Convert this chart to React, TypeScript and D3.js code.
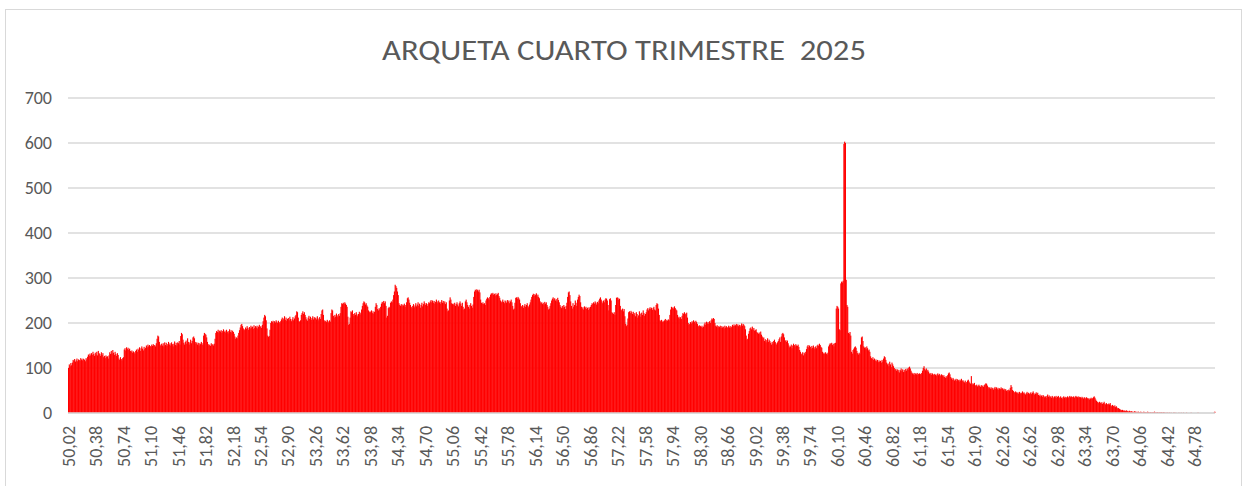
import * as d3 from 'd3';

// Frequency per 0,01 step (one row = one tick interval of 36 steps)
const counts5002 = [
  100,108,104,111,106,112,118,116,120,114,117,121,115,119,118,116,122,119,117,121,120,118,115,122,119,125,130,127,132,128,133,129,136,131,127,134,
  130,136,128,138,133,131,127,135,129,133,124,127,122,128,125,126,121,128,135,131,138,132,140,134,129,136,131,127,133,129,121,118,124,120,117,122,
  124,141,144,139,146,142,145,140,143,138,136,139,134,137,135,132,138,141,136,143,140,146,138,144,148,143,139,147,142,145,150,146,152,148,151,149,
  147,152,149,153,150,151,148,155,165,172,170,158,152,149,154,150,155,148,157,151,156,149,153,158,152,155,150,157,153,148,154,159,151,156,150,157,
  155,160,152,171,178,175,163,156,152,158,161,154,166,158,152,157,163,155,160,168,170,166,158,154,157,152,156,150,155,153,158,155,151,172,178,176,
  174,168,158,153,150,152,149,155,151,153,150,154,165,178,182,180,185,179,183,181,184,178,182,186,180,183,179,185,181,177,182,186,180,184,179,183,
  180,176,170,165,168,166,172,178,184,190,196,198,193,188,184,186,190,187,193,189,185,191,188,194,190,192,187,195,189,193,190,194,188,192,196,191,
];

const counts5254 = [
  193,189,196,204,212,218,215,206,188,172,169,171,185,200,204,202,205,199,204,201,206,203,200,205,202,199,204,208,212,206,210,215,207,212,205,209,
  211,206,214,209,204,208,213,206,210,215,218,226,224,212,204,203,206,218,222,226,220,224,218,213,208,205,212,216,209,214,207,211,215,208,213,210,
  212,208,215,210,206,213,209,220,228,230,218,206,203,205,202,207,204,201,206,203,222,230,228,216,212,218,214,221,217,213,220,216,222,236,244,242,
  245,242,246,243,240,236,214,196,198,212,226,224,228,220,216,222,218,224,219,215,220,225,219,223,230,238,244,248,246,241,244,239,236,228,224,226,
  224,228,222,226,221,225,236,244,240,231,228,233,230,236,243,247,245,249,244,248,238,212,216,233,236,234,245,248,246,252,262,270,285,282,278,270,
  262,244,240,238,242,237,241,239,243,236,240,246,255,257,252,245,240,236,233,238,242,235,239,244,237,241,246,238,243,234,240,245,237,242,248,244,
  240,244,238,242,246,244,248,251,246,250,245,249,243,247,252,248,244,250,246,243,247,251,245,249,244,248,242,246,232,226,228,250,257,252,244,242,
];

const counts5506 = [
  243,240,245,238,242,246,241,237,244,248,243,238,245,236,230,232,248,252,246,240,236,232,240,244,238,234,241,258,270,274,272,275,273,270,274,268,
  252,245,243,246,242,244,240,250,254,257,255,252,258,263,266,264,267,263,265,261,266,262,264,267,260,256,250,246,248,252,247,244,250,248,245,251,
  247,250,244,248,252,246,238,230,232,245,256,257,254,258,255,252,244,238,236,240,234,238,242,236,240,244,238,235,241,246,252,258,262,265,260,264,
  262,266,259,263,258,255,248,244,246,242,245,241,247,243,246,240,236,230,232,238,244,250,254,257,252,255,250,253,248,256,251,246,240,236,233,238,
  234,240,236,231,238,245,258,268,270,262,248,238,232,244,236,240,250,245,238,252,258,263,260,246,236,232,235,230,237,233,236,231,234,229,235,232,
  236,240,244,242,246,243,248,245,241,247,244,250,254,257,252,248,244,250,246,252,255,254,250,240,228,253,255,250,224,222,220,224,218,240,256,257,
  256,252,254,238,230,228,232,226,231,215,198,193,196,210,224,226,222,227,224,220,225,218,222,215,224,220,212,217,226,221,214,223,218,228,222,216,
];

const counts5758 = [
  220,224,230,233,228,232,235,231,234,229,233,236,230,228,240,244,242,232,218,206,204,207,202,205,203,206,209,204,207,205,208,206,218,230,236,233,
  235,232,237,233,230,228,218,212,214,210,213,209,216,222,220,224,221,219,223,212,200,196,198,202,199,204,201,206,203,199,205,202,198,194,192,195,
  193,191,194,190,192,197,201,196,203,199,202,198,204,200,206,210,208,211,209,200,194,192,195,190,193,191,194,189,193,190,192,188,194,190,193,189,
  191,194,190,193,189,192,196,193,197,194,195,198,194,197,193,196,192,195,199,194,198,196,193,186,172,163,165,176,182,188,190,186,192,185,189,183,
  184,186,180,178,176,179,175,181,174,170,166,168,160,164,157,162,166,158,163,160,156,152,158,154,160,163,158,155,152,157,160,164,168,158,170,176,
  178,175,168,160,162,158,161,155,150,146,148,152,144,150,154,151,148,153,150,149,152,147,140,136,132,130,135,128,134,131,136,142,148,151,146,150,
  147,143,149,145,150,146,142,148,144,150,152,149,154,151,147,145,136,132,134,131,135,132,130,134,148,152,155,153,156,151,154,148,155,156,232,238,
];

const counts6010 = [
  236,232,186,184,288,292,290,294,598,603,600,296,240,236,178,176,180,172,136,132,140,143,146,148,145,138,133,130,134,131,152,168,170,160,148,145,
  146,142,148,144,139,141,136,126,122,120,124,118,121,116,119,115,118,113,117,114,116,112,118,114,121,126,124,118,112,108,110,104,114,108,102,112,
  108,104,100,96,98,94,97,92,96,90,95,99,93,97,91,96,92,98,94,99,96,101,103,99,94,90,88,86,89,85,88,86,89,85,87,88,
  87,86,89,94,100,104,98,95,99,93,96,92,88,86,89,85,88,86,84,87,85,83,86,88,84,87,85,82,86,84,81,84,80,78,82,79,
  84,88,90,86,80,77,74,78,75,72,74,76,71,75,73,70,74,72,76,71,73,70,68,72,66,69,72,74,70,67,65,82,63,66,64,67,
  62,60,63,59,61,63,60,58,62,59,61,58,62,64,66,65,61,58,55,57,54,57,53,56,52,55,58,54,57,53,56,52,55,53,57,54,
  55,52,54,50,53,49,51,48,52,50,56,62,58,51,49,47,45,48,46,44,46,43,47,45,42,45,48,44,46,43,41,44,47,43,45,42,
];

const counts6262 = [
  44,46,42,45,48,44,41,43,46,42,45,40,38,41,37,39,36,40,38,35,37,34,38,41,36,39,35,37,34,38,36,33,37,35,38,34,
  36,38,35,33,37,34,32,35,37,34,36,33,35,37,34,36,38,35,37,36,35,37,34,36,38,36,35,37,34,36,35,33,36,34,32,35,
  34,32,35,33,31,33,30,32,34,31,33,35,37,34,30,27,25,24,22,25,23,21,24,20,22,25,21,19,22,20,18,21,19,22,17,15,
  18,16,14,17,13,15,12,10,11,9,8,7,6,7,5,6,5,4,6,5,4,3,5,4,3,4,3,2,3,4,3,2,3,2,3,2,
  2,3,2,1,2,3,2,2,1,2,3,2,1,2,2,1,2,1,2,3,1,2,1,2,1,1,2,1,2,1,1,2,1,1,0,1,
  1,0,1,1,0,1,0,0,1,1,0,1,0,0,0,1,0,0,1,0,0,1,0,0,0,1,0,0,0,0,0,1,0,0,0,0,
  0,0,0,0,1,0,0,0,0,0,0,0,0,0,0,0,0,0,0,0,0,0,0,0,0,1,3,
];

const counts = [...counts5002, ...counts5254, ...counts5506, ...counts5758, ...counts6010, ...counts6262];

const FIRST_CATEGORY = 50.02;
const categories = counts.map((_, i) => (FIRST_CATEGORY + i / 100).toFixed(2).replace('.', ','));

const tickLabels = [
  '50,02', '50,38', '50,74', '51,10', '51,46', '51,82', '52,18', '52,54', '52,90', '53,26', '53,62',
  '53,98', '54,34', '54,70', '55,06', '55,42', '55,78', '56,14', '56,50', '56,86', '57,22', '57,58',
  '57,94', '58,30', '58,66', '59,02', '59,38', '59,74', '60,10', '60,46', '60,82', '61,18', '61,54',
  '61,90', '62,26', '62,62', '62,98', '63,34', '63,70', '64,06', '64,42', '64,78',
];

const yTicks = [0, 100, 200, 300, 400, 500, 600, 700];

const title = 'ARQUETA CUARTO TRIMESTRE\u00a0\u00a02025';

const WIDTH = 1244;
const HEIGHT = 486;
const margin = { top: 98, right: 29, bottom: 73, left: 68 };
const FONT = 'Carlito, Lato, "Open Sans", sans-serif';
const TEXT = '#595959';
const GRID = '#d9d9d9';

export default function App() {
  const x = d3.scaleBand<string>()
    .domain(categories)
    .range([margin.left, WIDTH - margin.right])
    .padding(0);

  const y = d3.scaleLinear()
    .domain([0, 700])
    .range([HEIGHT - margin.bottom, margin.top]);

  const bw = x.bandwidth();

  return (
    <svg
      width={WIDTH}
      height={HEIGHT}
      style={{ position: 'absolute', left: 0, top: 0, background: '#fff' }}
    >
      <rect x={5.5} y={9.5} width={1236} height={490} fill="#fff" stroke={GRID} strokeWidth={1} />

      <text
        x={624}
        y={60}
        textAnchor="middle"
        fontFamily={FONT}
        fontSize={28}
        fontWeight={300}
        textLength={484}
        lengthAdjust="spacingAndGlyphs"
        fill={TEXT}
      >
        {title}
      </text>

      {yTicks.map((t) => (
        <g key={t}>
          <line
            x1={margin.left}
            x2={WIDTH - margin.right}
            y1={y(t)}
            y2={y(t)}
            stroke={GRID}
            strokeWidth={1.5}
          />
          <text
            x={52}
            y={y(t)}
            dy="0.35em"
            textAnchor="end"
            fontFamily={FONT}
            fontSize={18}
            fill={TEXT}
          >
            {t}
          </text>
        </g>
      ))}

      <g fill="#ff0000">
        {counts.map((v, i) => (
          <rect
            key={categories[i]}
            x={x(categories[i])}
            y={y(v)}
            width={bw + 0.35}
            height={y(0) - y(v)}
          />
        ))}
      </g>

      <line
        x1={margin.left}
        x2={WIDTH - margin.right}
        y1={y(0)}
        y2={y(0)}
        stroke={GRID}
        strokeWidth={1.5}
      />

      {tickLabels.map((t) => {
        const cx = (x(t) ?? 0) + bw / 2;
        return (
          <text
            key={t}
            transform={`translate(${cx},${y(0) + 13}) rotate(-90)`}
            dy="0.35em"
            textAnchor="end"
            fontFamily={FONT}
            fontSize={18}
            fill={TEXT}
          >
            {t}
          </text>
        );
      })}
    </svg>
  );
}
